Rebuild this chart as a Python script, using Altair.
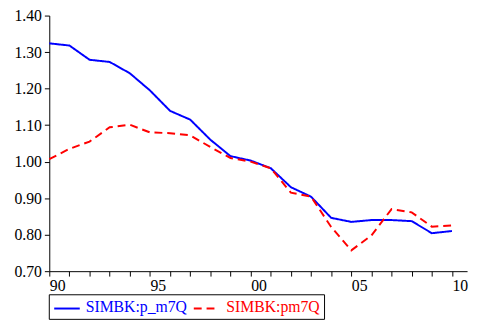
import altair as alt
import pandas as pd

years = list(range(1990, 2011))
p_m7q = [1.324, 1.318, 1.279, 1.273, 1.242, 1.195, 1.139, 1.115, 1.060, 1.015,
         1.003, 0.982, 0.930, 0.904, 0.846, 0.835, 0.840, 0.840, 0.837, 0.804, 0.810]
pm7q = [1.007, 1.035, 1.055, 1.094, 1.101, 1.080, 1.078, 1.072, 1.040, 1.010,
        1.000, 0.982, 0.915, 0.904, 0.821, 0.757, 0.798, 0.870, 0.861, 0.822, 0.825]
series_names = ["SIMBK:p_m7Q", "SIMBK:pm7Q"]
series_colors = ["#0000FF", "#FF0000"]

rows = []
for name, vals in zip(series_names, [p_m7q, pm7q]):
    for y, v in zip(years, vals):
        rows.append({"year": y, "value": v, "series": name})
df = pd.DataFrame(rows)

font = "Liberation Serif"

color_scale = alt.Scale(domain=series_names, range=series_colors)
dash_scale = alt.Scale(domain=series_names, range=[[1, 0], [8, 5]])

lines = alt.Chart(df).mark_line(strokeWidth=2).encode(
    x=alt.X("year:Q",
            scale=alt.Scale(domain=[1990, 2010.75], nice=False, zero=False),
            axis=alt.Axis(values=years, title=None, grid=False, tickSize=5,
                          labelExpr="datum.value % 5 == 0 ? slice(toString(datum.value), 2) : ''",
                          labelAlign="left", labelPadding=2, labelFlush=False,
                          labelFont=font, labelFontSize=16,
                          domainColor="black", tickColor="black")),
    y=alt.Y("value:Q",
            scale=alt.Scale(domain=[0.70, 1.40], nice=False, zero=False),
            axis=alt.Axis(values=[0.7, 0.8, 0.9, 1.0, 1.1, 1.2, 1.3, 1.4], format=".2f",
                          title=None, grid=False, tickSize=5, labelPadding=3,
                          labelFont=font, labelFontSize=16,
                          domainColor="black", tickColor="black")),
    color=alt.Color("series:N", scale=color_scale, legend=None),
    strokeDash=alt.StrokeDash("series:N", scale=dash_scale, legend=None),
)

# manual legend (box, two line samples, two coloured labels)
box = alt.Chart(alt.Data(values=[{}])).mark_rect(
    fill="white", stroke="black", strokeWidth=1
).encode(x=alt.value(0), x2=alt.value(280), y=alt.value(284), y2=alt.value(309))

sample_blue = alt.Chart(alt.Data(values=[{}])).mark_rule(
    color=series_colors[0], strokeWidth=2
).encode(x=alt.value(5), x2=alt.value(31), y=alt.value(298))
sample_red = alt.Chart(alt.Data(values=[{}])).mark_rule(
    color=series_colors[1], strokeWidth=2, strokeDash=[8, 5]
).encode(x=alt.value(147), x2=alt.value(169), y=alt.value(298))

label_blue = alt.Chart(alt.Data(values=[{}])).mark_text(
    text=series_names[0], color=series_colors[0], font=font, fontSize=16,
    align="left", baseline="middle"
).encode(x=alt.value(37), y=alt.value(297))
label_red = alt.Chart(alt.Data(values=[{}])).mark_text(
    text=series_names[1], color=series_colors[1], font=font, fontSize=16,
    align="left", baseline="middle"
).encode(x=alt.value(180), y=alt.value(297))

chart = alt.layer(lines, box, sample_blue, sample_red, label_blue, label_red).properties(
    width=425, height=260,
    autosize=alt.AutoSizeParams(type="none"),
    padding={"left": 42, "top": 5, "right": 5, "bottom": 50},
).configure(font=font).configure_view(stroke=None).configure_axis(
    labelColor="black", domainWidth=1, tickWidth=1
)

chart.save("out.html", embed_options={"renderer": "svg", "actions": False})
